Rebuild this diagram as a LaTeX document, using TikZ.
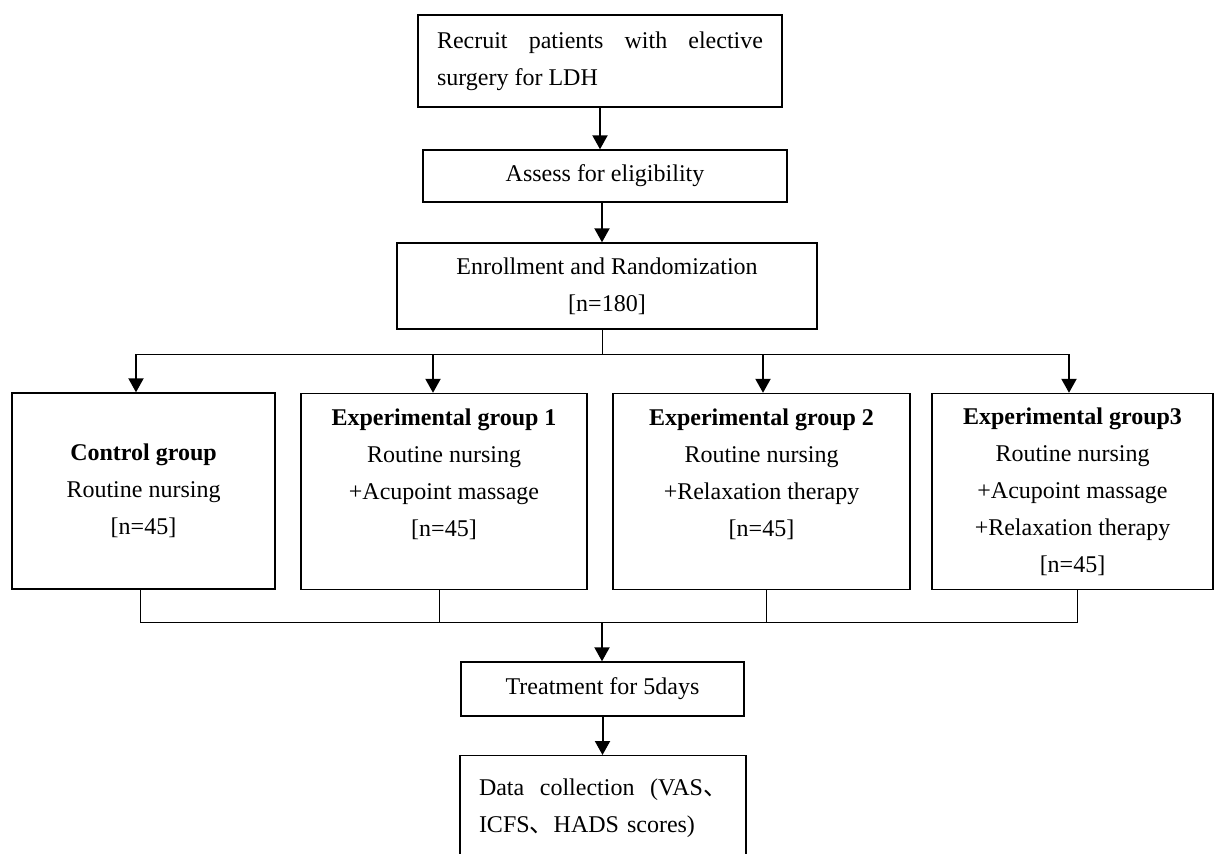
\documentclass[tikz,border=0pt]{standalone}
\usepackage{fontspec}
\setmainfont{Liberation Serif}
\newfontfamily\cjk{Noto Sans CJK SC}
\usetikzlibrary{arrows.meta}

\tikzset{
  box/.style={draw, line width=0.7pt, inner sep=0pt, align=center,
    font=\fontsize{12pt}{18.5pt}\selectfont},
  groupbox/.style={box, minimum height=98pt},
  arr/.style={line width=1pt, -{Triangle[length=7pt,width=7.5pt]}},
  link/.style={line width=0.5pt}
}

\begin{document}
\begin{tikzpicture}[x=0.5pt,y=-0.5pt]
\useasboundingbox (0,0) rectangle (1215,853);
\clip (0,0) rectangle (1215,853);

% top part
\node[box, minimum width=182pt, minimum height=46pt, text width=163pt, align=justify] (recruit) at (600,61)
  {Recruit patients with elective surgery for LDH};
\node[box, minimum width=182pt, minimum height=26pt] (assess) at (605,176) {Assess for eligibility};
\node[box, minimum width=210pt, minimum height=43pt] (enroll) at (607,286)
  {Enrollment and Randomization\\{[n=180]}};

% the four groups
\node[groupbox, minimum width=131.5pt] (control) at (143.5,491)
  {\textbf{Control group}\\Routine nursing\\{[n=45]}};
\node[groupbox, minimum width=143pt] (exp1) at (444,491.5)
  {\textbf{Experimental group 1}\\Routine nursing\\+Acupoint massage\\{[n=45]}\\\mbox{}};
\node[groupbox, minimum width=148.5pt] (exp2) at (761.5,491.5)
  {\textbf{Experimental group 2}\\Routine nursing\\+Relaxation therapy\\{[n=45]}\\\mbox{}};
\node[groupbox, minimum width=140.5pt] (exp3) at (1072.5,491.5)
  {\textbf{Experimental group3}\\Routine nursing\\+Acupoint massage\\+Relaxation therapy\\{[n=45]}};

% bottom part
\node[box, minimum width=141.5pt, minimum height=27pt] (treat) at (602.5,689) {Treatment for 5days};
\node[box, anchor=north, text width=124pt, align=left, inner xsep=9.5pt, inner ysep=11.5pt] (data) at (603,755)
  {Data\hfill collection\hfill (VAS{\cjk 、}\\ICFS{\cjk 、}HADS scores)};

% arrows
\draw[arr] (recruit.south) -- (recruit.south |- assess.north);
\draw[arr] ([xshift=-1.5pt]assess.south) -- ([xshift=-2.5pt]enroll.north);

\coordinate (split) at (602,354);
\coordinate (c1) at ([xshift=-3.75pt]control.north);
\coordinate (c2) at ([xshift=-5.5pt]exp1.north);
\coordinate (c3) at ([xshift=0.75pt]exp2.north);
\coordinate (c4) at ([xshift=-1.75pt]exp3.north);
\draw[link] ([xshift=-2.5pt]enroll.south) -- (split);
\draw[link] (c1 |- split) -- (c4 |- split);
\draw[arr] (c1 |- split) -- (c1);
\draw[arr] (c2 |- split) -- (c2);
\draw[arr] (c3 |- split) -- (c3);
\draw[arr] (c4 |- split) -- (c4);

\coordinate (join) at (602,622);
\draw[link] ([xshift=-1.75pt]control.south) |- (join);
\draw[link] ([xshift=-2.5pt]exp1.south) -- ++(0,32);
\draw[link] ([xshift=2.25pt]exp2.south) -- ++(0,32);
\draw[link] ([xshift=2.25pt]exp3.south) |- (join);
\draw[arr] (join) -- (join |- treat.north);
\draw[arr] (treat.south) -- (treat.south |- data.north);
\end{tikzpicture}
\end{document}
